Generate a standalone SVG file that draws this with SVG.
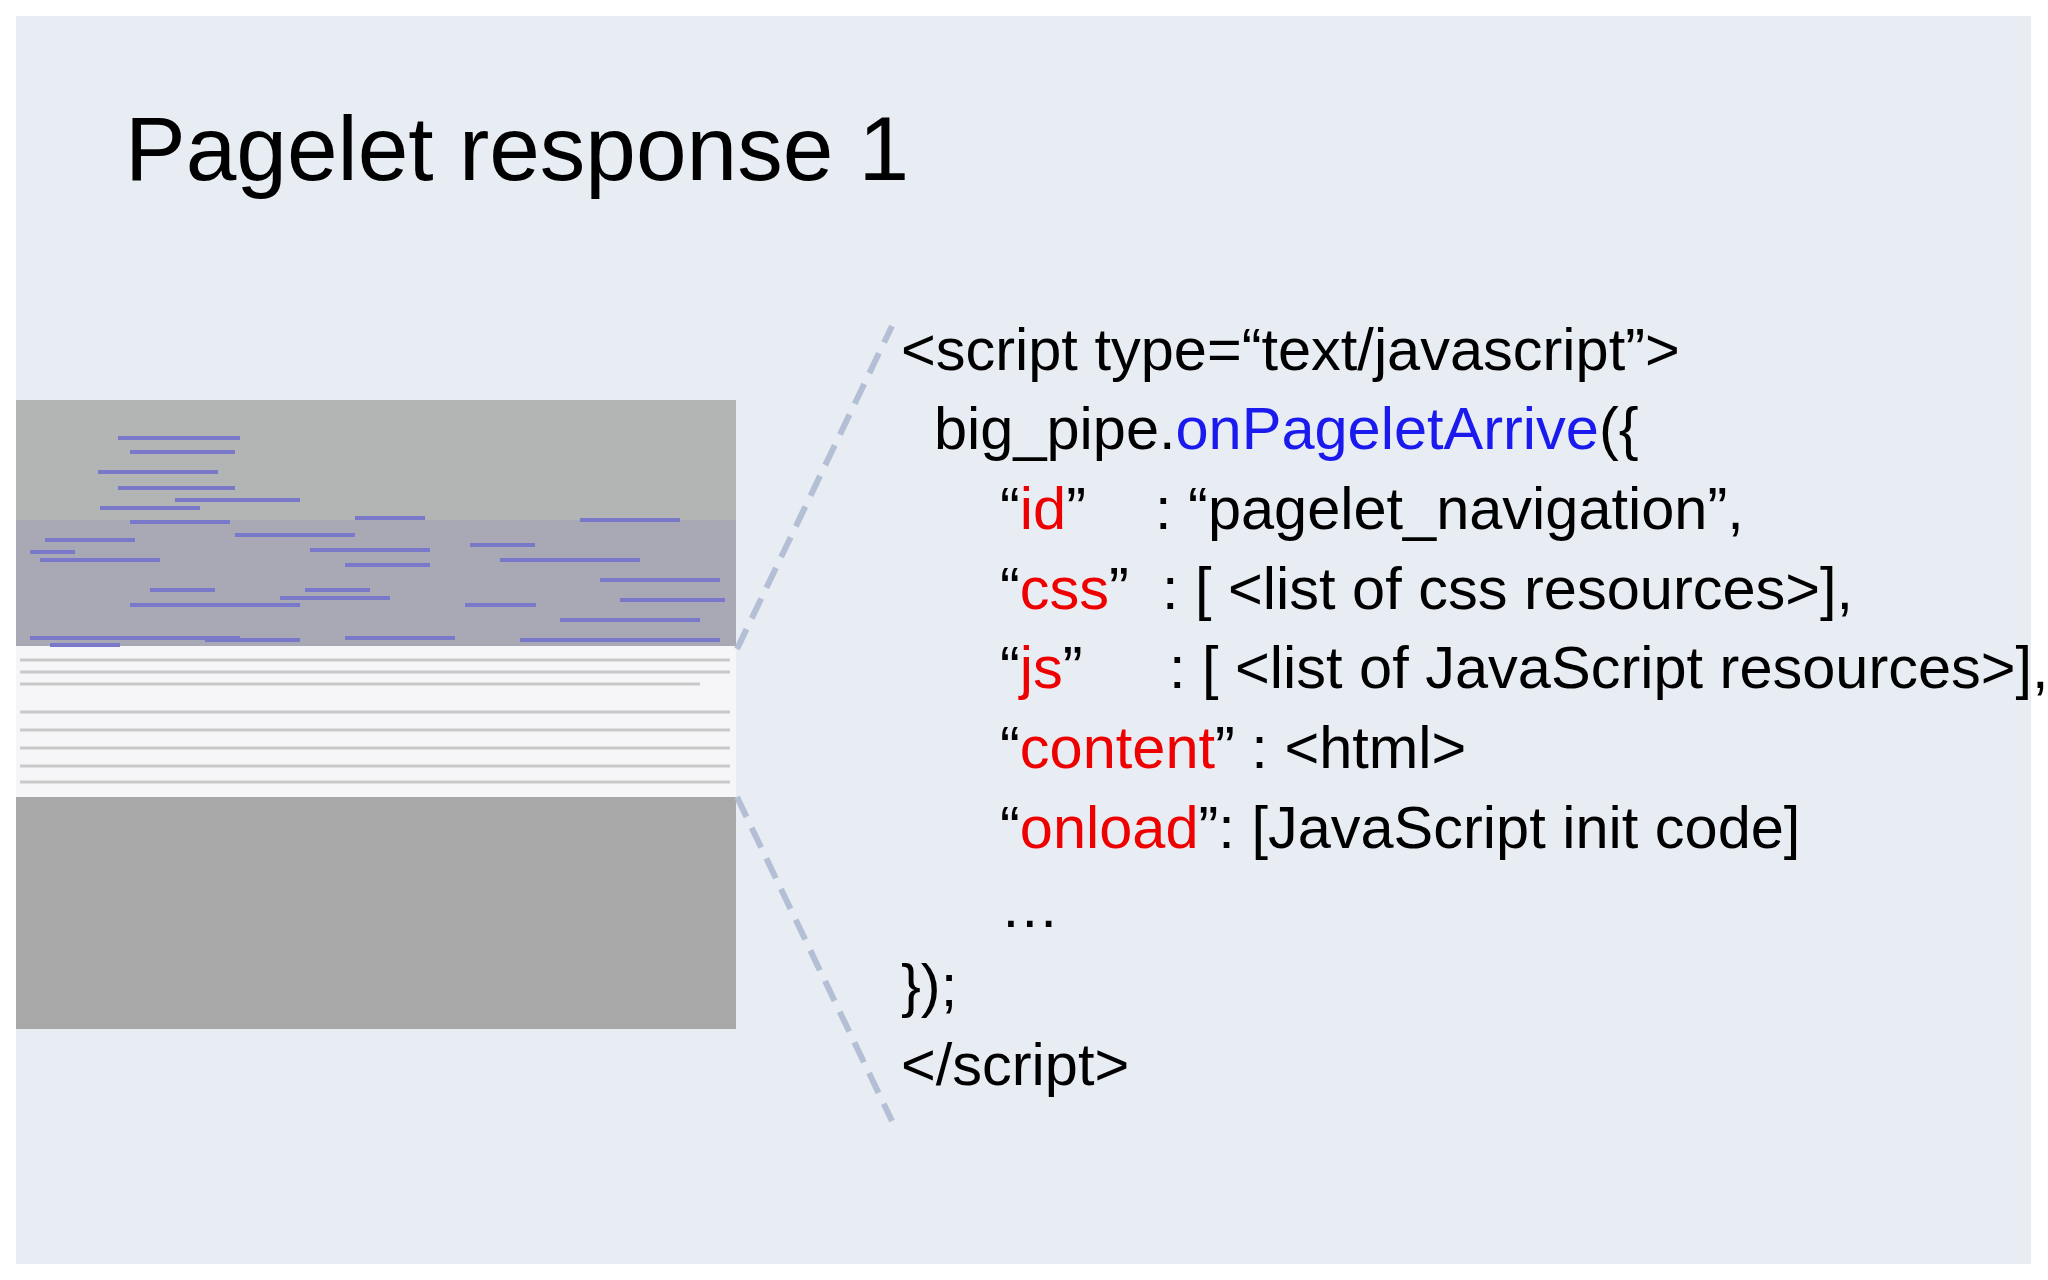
<svg xmlns="http://www.w3.org/2000/svg" width="2048" height="1280" viewBox="0 0 2048 1280">
<style>
.t{font-family:"Liberation Sans",Arial,sans-serif;font-size:59.5px;fill:#000}
.r{fill:#ee0000}.b{fill:#1a1aee}
.bl{stroke:#7a78c8;stroke-width:4}
.gl{stroke:#c9c9c9;stroke-width:3}
</style>
<rect width="2048" height="1280" fill="#fff"/>
<rect x="16" y="16" width="2015" height="1248" fill="#e8ecf3"/>
<text x="125" y="180" font-family="Liberation Sans,Arial,sans-serif" font-size="91">Pagelet response 1</text>
<g id="screenshot">
<rect x="16" y="400" width="720" height="120" fill="#b3b5b4"/>
<rect x="16" y="520" width="720" height="126" fill="#a9a9b6"/>
<rect x="16" y="646" width="720" height="151" fill="#f6f6f8"/>
<rect x="16" y="797" width="720" height="232" fill="#a8a8a8"/>
<g class="bl">
<line x1="118" y1="438" x2="240" y2="438"/><line x1="130" y1="452" x2="235" y2="452"/>
<line x1="98" y1="472" x2="218" y2="472"/><line x1="118" y1="488" x2="235" y2="488"/>
<line x1="100" y1="508" x2="200" y2="508"/><line x1="175" y1="500" x2="300" y2="500"/>
<line x1="130" y1="522" x2="230" y2="522"/><line x1="355" y1="518" x2="425" y2="518"/>
<line x1="235" y1="535" x2="355" y2="535"/><line x1="45" y1="540" x2="135" y2="540"/>
<line x1="310" y1="550" x2="430" y2="550"/><line x1="470" y1="545" x2="535" y2="545"/>
<line x1="30" y1="552" x2="75" y2="552"/><line x1="40" y1="560" x2="160" y2="560"/>
<line x1="345" y1="565" x2="430" y2="565"/><line x1="150" y1="590" x2="215" y2="590"/>
<line x1="305" y1="590" x2="370" y2="590"/><line x1="280" y1="598" x2="390" y2="598"/>
<line x1="130" y1="605" x2="300" y2="605"/><line x1="465" y1="605" x2="536" y2="605"/>
<line x1="30" y1="638" x2="240" y2="638"/><line x1="345" y1="638" x2="455" y2="638"/>
<line x1="50" y1="645" x2="120" y2="645"/><line x1="205" y1="640" x2="300" y2="640"/>
<line x1="500" y1="560" x2="640" y2="560"/><line x1="560" y1="620" x2="700" y2="620"/>
<line x1="600" y1="580" x2="720" y2="580"/><line x1="520" y1="640" x2="720" y2="640"/>
<line x1="580" y1="520" x2="680" y2="520"/><line x1="620" y1="600" x2="725" y2="600"/>
</g>
<g class="gl">
<line x1="20" y1="660" x2="730" y2="660"/><line x1="20" y1="672" x2="730" y2="672"/>
<line x1="20" y1="684" x2="700" y2="684"/><line x1="20" y1="712" x2="730" y2="712"/>
<line x1="20" y1="730" x2="730" y2="730"/><line x1="20" y1="748" x2="730" y2="748"/>
<line x1="20" y1="766" x2="730" y2="766"/><line x1="20" y1="782" x2="730" y2="782"/>
</g>
</g>
<g id="connectors" stroke="#b3bfd4" stroke-width="6" stroke-dasharray="22,12" fill="none">
<line x1="737" y1="649" x2="892" y2="326"/>
<line x1="737" y1="797" x2="892" y2="1121"/>
</g>
<g id="code" class="t">
<text x="901" y="370">&lt;script type=“text/javascript”&gt;</text>
<text x="934" y="449">big_pipe.<tspan class="b">onPageletArrive</tspan>({</text>
<text x="1000" y="529">“<tspan class="r">id</tspan>”<tspan x="1155">: “pagelet_navigation”,</tspan></text>
<text x="1000" y="609">“<tspan class="r">css</tspan>”<tspan x="1162">: [ &lt;list of css resources&gt;],</tspan></text>
<text x="1000" y="688">“<tspan class="r">js</tspan>”<tspan x="1169">: [ &lt;list of JavaScript resources&gt;],</tspan></text>
<text x="1000" y="768">“<tspan class="r">content</tspan>” : &lt;html&gt;</text>
<text x="1000" y="848">“<tspan class="r">onload</tspan>”: [JavaScript init code]</text>
<text x="1000" y="927">…</text>
<text x="901" y="1006">});</text>
<text x="901" y="1085">&lt;/script&gt;</text>
</g>
</svg>
